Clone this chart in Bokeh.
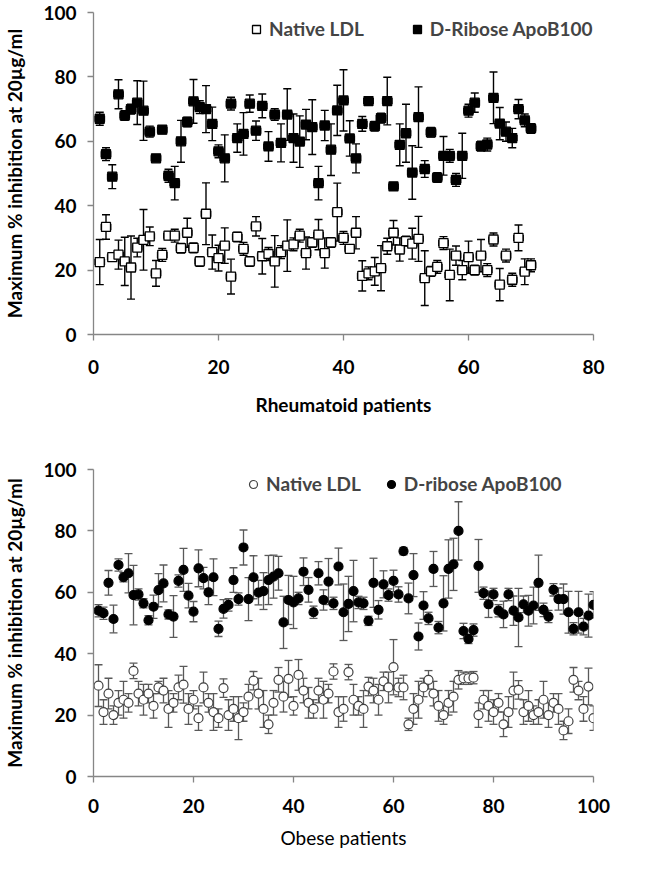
from bokeh.plotting import figure
from bokeh.models import Whisker, TeeHead, ColumnDataSource, Legend, LegendItem, FixedTicker, Range1d
from bokeh.layouts import column
from bokeh.embed import file_html
from bokeh.resources import INLINE

FONT = "Lato"
FS = "19px"

# ---------------- Rheumatoid patients (top panel) ----------------
ra_native = [22.5, 33.4, 24, 24.8, 22.7, 20.8, 27, 29.4, 30.5, 19, 24.7, 30.7, 30.7, 26.8, 31.6,
             26.9, 22.7, 37.5, 25.6, 23.7, 27.6, 18, 30.3, 26.6, 22.7, 33.6, 24.3, 25, 22.7, 25.6,
             27.6, 28, 30.7, 25.3, 28.6, 31, 25.3, 28.6, 38, 30, 26.6, 31.6, 18.2, 19, 19.6,
             20.6, 27.4, 31.6, 26.4, 29, 28.2, 29.7, 17.5, 19.6, 21, 28.4, 18.5, 24.5, 20, 24,
             20, 24.5, 20, 29.5, 15.5, 24.5, 17, 30, 19.5, 21.5]
ra_native_err = [7, 3.8, 1.2, 4.5, 7.5, 9.8, 2.9, 9.4, 2.9, 4, 2, 1.2, 2, 1.5, 4.5,
                 1.5, 1.5, 9.6, 5.3, 4, 5.5, 5.4, 1.5, 2, 1.5, 3, 5.5, 2, 8, 2,
                 8, 2, 2, 5, 1.5, 4.7, 4.7, 1.5, 9, 2, 1.2, 5, 4.7, 2, 4.3,
                 7, 2.5, 3.8, 3.6, 1.5, 4.8, 7, 8.5, 1.5, 2, 2, 8, 3, 3, 5,
                 1.5, 5, 2, 2, 5, 2, 2, 4, 4, 2]
ra_ribose = [67, 56, 49, 74.6, 68, 70, 72, 69.5, 63, 54.7, 63.6, 49.3, 47, 60, 66,
             72.4, 70.6, 70, 65.4, 56.9, 54.7, 71.7, 61, 62.3, 71.7, 63.3, 71, 58.4, 68.3, 59.5,
             68.3, 61, 59.9, 65.2, 64.4, 47, 64.9, 57.4, 69.6, 72.7, 60.9, 54.7, 65.4, 72.5, 64.7,
             67.2, 72.5, 46, 58.9, 62.5, 50.3, 67.5, 51.4, 62.8, 48.75, 55.5, 55.5, 48, 55.5, 69.5,
             72, 58.5, 59, 73.5, 65.5, 63, 61, 70, 66.5, 64]
ra_ribose_err = [2, 2, 3.7, 4.5, 1.5, 1.5, 6.8, 9.2, 1.7, 1, 1.2, 2, 5.2, 6.5, 1.5,
                 6.8, 2, 7.3, 5.2, 2, 7.3, 2, 4.4, 6.6, 2.7, 3, 3.7, 4.6, 1.8, 5.9,
                 8, 7.5, 8, 4.7, 8.5, 5.2, 4.7, 8, 7.8, 9.5, 5.5, 4.5, 2.3, 1.2, 1.5,
                 1.5, 7.4, 1.2, 6.5, 9, 8.3, 9.4, 2.6, 1.5, 1.5, 6, 2, 2, 7, 2,
                 3, 1.5, 2, 8, 5, 3, 3, 3, 2, 1.5]
ra_patients = list(range(1, len(ra_native) + 1))

# ---------------- Obese patients (bottom panel) ----------------
ob_native = [29.6, 21, 27, 20, 24, 25, 24, 34.4, 27, 25, 27, 23, 29, 28, 22,
             24, 29, 29.9, 22, 25, 19, 29, 24, 21, 19, 28.8, 20, 22, 19, 21,
             26, 31.2, 27, 22, 17, 24, 31.5, 26, 31.8, 23, 33.1, 28, 24, 22, 28,
             25, 27, 34.2, 21, 22, 34, 25, 23, 22, 29.3, 28, 25, 31, 29, 35.6,
             29, 29, 17, 22, 25, 29, 31.5, 27, 23, 20, 24, 26, 31.5, 32, 32,
             32.2, 20, 25, 23, 21, 24, 17, 21, 28, 28.2, 21, 23, 20, 21, 25,
             20, 24, 22, 15, 18, 31.5, 28, 22, 29.3, 19]
ob_native_err = [6.8, 4, 5, 3, 4, 6, 3, 2.5, 4, 5, 3, 4, 2, 4, 6,
                 3, 4, 6, 5, 3, 4, 5, 3, 6, 3, 3, 5, 4, 7, 3,
                 4, 3, 5, 6, 3, 4, 4, 5, 6, 3, 5, 4, 5, 3, 4,
                 6, 3, 2.5, 5, 4, 2.5, 5, 3, 6, 3, 4, 5, 3, 5, 9,
                 3, 4, 2, 5, 6, 3, 3, 4, 5, 3, 4, 5, 3, 2, 2,
                 2, 4, 3, 5, 4, 3, 4, 5, 6, 3, 4, 5, 3, 4, 6,
                 4, 3, 5, 3, 4, 4, 3, 4, 6, 4]
ob_ribose = [54, 53.2, 63.1, 51.3, 68.9, 64.9, 66.2, 59.1, 59.3, 56.4, 50.9, 55.3, 60.7, 62.9, 52.8,
             52.1, 63.7, 67.3, 58.9, 53.7, 67.8, 64.6, 60, 64.9, 48.1, 54.6, 55.9, 64, 57.8, 74.6,
             57.8, 64.9, 59.9, 60.4, 64, 65.1, 66.2, 50.2, 57.5, 56.7, 58, 66.7, 60.8, 53.5, 66.2,
             57.5, 63.5, 56.4, 68.4, 53.5, 56.2, 60.4, 56.7, 56.4, 50.7, 63.1, 54.3, 62.6, 59.1, 63.7,
             59.3, 73.4, 58, 65.6, 45.6, 55.7, 51.5, 67.6, 48.5, 56.4, 67.6, 69.1, 80, 47.4, 44.8,
             47.7, 68.6, 59.7, 56.1, 59.3, 54, 52.8, 59.3, 54, 51.8, 56.1, 54, 55.7, 63.1, 54.3,
             52.1, 60.8, 57.8, 57.8, 53.5, 48.1, 53.5, 48.8, 52.4, 55.9]
ob_ribose_err = [2, 2, 4, 4.5, 2, 1.5, 6.4, 9.7, 1.8, 1.5, 1.5, 3.8, 5.4, 6, 1.5,
                 6.8, 2, 7, 4, 3.3, 6, 3.5, 4, 6, 2.5, 3, 2, 4, 2, 5.7,
                 7, 7, 4, 6, 8, 7, 5.5, 8.5, 8, 8.5, 2, 4.5, 4, 2, 3.8,
                 3.3, 7.5, 2, 6, 9.2, 9, 10, 2, 2, 1.5, 8, 3, 4.4, 2, 3.5,
                 2.5, 1.2, 5, 7, 4.4, 4.5, 2, 5.7, 2, 9, 9.5, 8.5, 9.5, 2.5, 1.5,
                 2, 8.6, 2, 4.3, 2, 2, 4.3, 2, 4.8, 9.5, 2.7, 5, 6, 9, 2.2,
                 2, 2, 3.6, 4.9, 6.8, 2, 6.8, 2.7, 7, 4.3]
ob_patients = list(range(1, len(ob_native) + 1))

y_ticks = [0, 20, 40, 60, 80, 100]
ra_x_ticks = [0, 20, 40, 60, 80]
ob_x_ticks = [0, 20, 40, 60, 80, 100]
y_title = "Maximum % inhibition at 20µg/ml"

AXIS_GREY = "#868686"


def make_source(xs, ys, errs, hw):
    return ColumnDataSource(dict(
        x=xs, y=ys,
        lo=[v - e for v, e in zip(ys, errs)],
        hi=[v + e for v, e in zip(ys, errs)],
        xl=[x - hw for x in xs],
        xr=[x + hw for x in xs],
    ))


def style(p, xticks, xlabel, x_bold, xstand, xtstand):
    p.xgrid.visible = False
    p.ygrid.visible = False
    p.outline_line_color = None
    p.background_fill_color = "white"
    for ax in (p.xaxis[0], p.yaxis[0]):
        ax.axis_line_color = AXIS_GREY
        ax.axis_line_width = 1.3
        ax.major_tick_line_color = AXIS_GREY
        ax.major_tick_line_width = 1.3
        ax.major_tick_out = 6
        ax.major_tick_in = 0
        ax.minor_tick_line_color = None
        ax.major_label_text_font = FONT
        ax.major_label_text_font_size = FS
        ax.major_label_text_font_style = "bold"
        ax.major_label_text_color = "black"
        ax.axis_label_text_font = FONT
        ax.axis_label_text_font_size = FS
        ax.axis_label_text_color = "black"
    p.xaxis[0].ticker = FixedTicker(ticks=xticks)
    p.yaxis[0].ticker = FixedTicker(ticks=y_ticks)
    p.xaxis[0].axis_label = xlabel
    p.yaxis[0].axis_label = y_title
    p.xaxis[0].axis_label_text_font_style = "bold" if x_bold else "normal"
    p.yaxis[0].axis_label_text_font_style = "bold"
    p.xaxis[0].major_label_standoff = xstand
    p.xaxis[0].axis_label_standoff = xtstand
    p.yaxis[0].major_label_standoff = 11
    p.yaxis[0].axis_label_standoff = 14


def add_errors(p, src, color, width, hbars):
    p.add_layout(Whisker(source=src, base="x", lower="lo", upper="hi", dimension="height",
                         line_color=color, line_width=width, level="underlay",
                         upper_head=TeeHead(size=8, line_color=color, line_width=width),
                         lower_head=TeeHead(size=8, line_color=color, line_width=width)))
    if hbars:
        p.add_layout(Whisker(source=src, base="y", lower="xl", upper="xr", dimension="width",
                             line_color=color, line_width=width, level="underlay",
                             upper_head=TeeHead(size=6, line_color=color, line_width=width),
                             lower_head=TeeHead(size=6, line_color=color, line_width=width)))


# ---------------- top figure ----------------
p1 = figure(width=630, height=430, output_backend="svg", toolbar_location=None,
            x_range=Range1d(0, 80), y_range=Range1d(0, 100),
            min_border_left=92, min_border_right=5, min_border_top=12, min_border_bottom=96)
style(p1, ra_x_ticks, "Rheumatoid patients", True, 19, 16)

s1n = make_source(ra_patients, ra_native, ra_native_err, 0.75)
s1r = make_source(ra_patients, ra_ribose, ra_ribose_err, 0.75)
add_errors(p1, s1n, "black", 1.4, True)
add_errors(p1, s1r, "black", 1.4, True)
r1n = p1.scatter("x", "y", source=s1n, marker="square", size=9, fill_color="white",
                 line_color="black", line_width=1.3)
r1r = p1.scatter("x", "y", source=s1r, marker="square", size=9, fill_color="black",
                 line_color="black", line_width=1.3)

leg1 = Legend(items=[LegendItem(label="Native LDL", renderers=[r1n]),
                     LegendItem(label="D-Ribose ApoB100", renderers=[r1r])],
              orientation="horizontal", location=(153, 294),
              border_line_color=None, background_fill_alpha=0, padding=0, margin=0,
              spacing=43, label_standoff=3, glyph_width=20, glyph_height=20,
              label_text_font=FONT, label_text_font_size=FS, label_text_font_style="bold")
p1.add_layout(leg1)

# ---------------- bottom figure ----------------
p2 = figure(width=630, height=425, output_backend="svg", toolbar_location=None,
            x_range=Range1d(0, 100), y_range=Range1d(0, 100),
            min_border_left=89, min_border_right=37, min_border_top=39, min_border_bottom=79)
style(p2, ob_x_ticks, "Obese patients", False, 16, 10)

s2n = make_source(ob_patients, ob_native, ob_native_err, 0.6)
s2r = make_source(ob_patients, ob_ribose, ob_ribose_err, 0.6)
add_errors(p2, s2n, "#595959", 1.3, False)
add_errors(p2, s2r, "#595959", 1.3, False)
r2n = p2.scatter("x", "y", source=s2n, marker="circle", size=9, fill_color="white",
                 line_color="#404040", line_width=1.2)
r2r = p2.scatter("x", "y", source=s2r, marker="circle", size=9, fill_color="black",
                 line_color="black", line_width=1.2)

leg2 = Legend(items=[LegendItem(label="Native LDL", renderers=[r2n]),
                     LegendItem(label="D-ribose ApoB100", renderers=[r2r])],
              orientation="horizontal", location=(150, 281),
              border_line_color=None, background_fill_alpha=0, padding=0, margin=0,
              spacing=20, label_standoff=3, glyph_width=20, glyph_height=20,
              label_text_font=FONT, label_text_font_size=FS, label_text_font_style="bold")
p2.add_layout(leg2)

layout = column(p1, p2, spacing=0)
open("out.html", "w").write(file_html(layout, INLINE))
